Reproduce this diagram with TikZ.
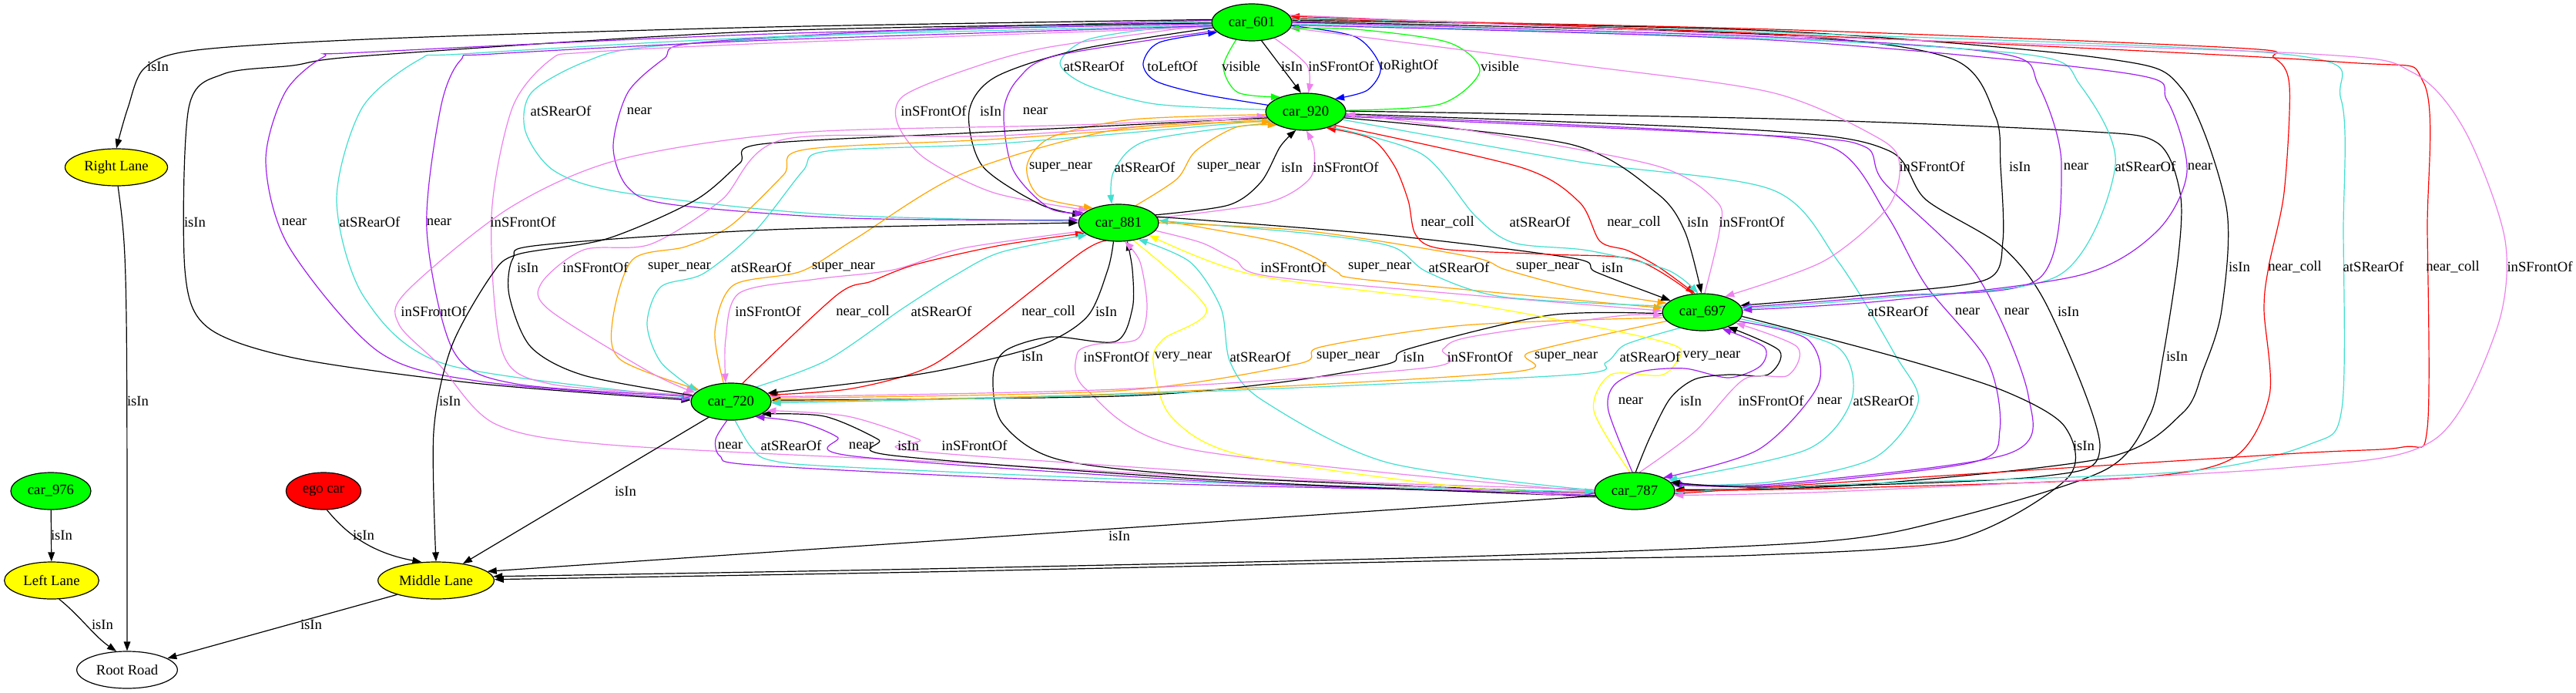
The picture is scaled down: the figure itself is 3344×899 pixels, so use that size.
\documentclass[tikz,border=0pt]{standalone}
\usepackage{fontspec}
\setmainfont{Liberation Serif}
\usetikzlibrary{shapes.geometric,arrows.meta}
\definecolor{cturq}{RGB}{64,224,208}
\definecolor{cviolet}{RGB}{238,130,238}
\definecolor{cpurple}{RGB}{160,32,240}
\definecolor{corange}{RGB}{255,165,0}
\definecolor{cred}{RGB}{255,0,0}
\definecolor{cblue}{RGB}{0,0,255}
\definecolor{cgreen}{RGB}{0,255,0}
\definecolor{cyellow}{RGB}{255,255,0}
\pgfdeclarelayer{bg}
\pgfdeclarelayer{edges}
\pgfsetlayers{bg,edges,main}
\tikzset{
  every node/.style={font=\fontsize{14pt}{16pt}\selectfont},
  gnode/.style={ellipse, draw, line width=0.9pt, minimum height=36pt, inner sep=0pt},
  car/.style={gnode, fill=cgreen, minimum width=78pt},
  lbl/.style={inner sep=0pt},
  ed/.style={line width=0.9pt, -{Triangle[length=9pt,width=6.5pt]}},
}
\newcommand{\Edg}[2]{\draw[ed,#1] plot[smooth,tension=0.5] coordinates {#2};}
\newcommand{\Lb}[3]{\node[lbl] (#1) at (#2) {#3};}
\begin{document}
\begin{tikzpicture}[x=0.75pt,y=-0.75pt]
\useasboundingbox (0,0) rectangle (3344,899);
\begin{pgfonlayer}{bg}
\fill[white] (0,0) rectangle (3344,899);
\end{pgfonlayer}
% nodes
\node[car] (n601) at (1625,29) {car\_601};
\node[car] (n920) at (1695,145) {car\_920};
\node[car] (n881) at (1452,289) {car\_881};
\node[car] (n697) at (2210,405) {car\_697};
\node[car] (n787) at (2122,637) {car\_787};
\node[car] (n720) at (949,521) {car\_720};
\node[car] (n976) at (66,637) {car\_976};
\node[gnode, fill=cyellow, minimum width=99.75pt] (rl) at (151,217) {Right Lane};
\node[gnode, fill=cyellow, minimum width=92pt] (ll) at (67,753) {Left Lane};
\node[gnode, fill=cred, minimum width=73pt] (ego) at (420,637) {ego car};
\node[gnode, fill=cyellow, minimum width=113pt] (ml) at (566,753) {Middle Lane};
\node[gnode, fill=white, minimum width=98pt] (root) at (165,869) {Root Road};
\begin{pgfonlayer}{edges}
% A: 601 <-> 920
\Edg{cturq}{(n920.177) (1500,135) (1410,110) (1376,82) (1410,52) (1500,37) (n601.186)}
\Edg{cblue}{(n920.170) (1560,122) (1500,105) (1484,82) (1505,55) (n601.196)}
\Edg{cgreen}{(n601.228) (1588,87) (1607,120) (n920.150)}
\draw[ed] (n601.-62) -- (n920.104);
\Edg{cviolet}{(n601.-35) (1697,85) (n920.82)}
\Edg{cblue}{(n601.-5) (1760,48) (1792,87) (1775,117) (n920.24)}
\Edg{cgreen}{(n920.2) (1870,135) (1921,92) (1880,55) (1760,38) (n601.-9)}
% B: 920 <-> 881
\Edg{corange}{(n920.184) (1470,155) (1365,178) (1333,215) (1350,255) (n881.150)}
\Edg{cturq}{(n920.198) (1490,182) (1446,222) (n881.110)}
\Edg{corange}{(n881.45) (1528,232) (1552,196) (1605,165) (n920.205)}
\Edg{black}{(n881.12) (1595,266) (1637,236) (1662,190) (n920.242)}
\Edg{cviolet}{(n881.7) (1645,263) (1700,232) (1706,195) (n920.272)}
% C: 601 -> 881
\Edg{cviolet}{(n601.183) (1357,62) (1250,92) (1172,125) (1165,160) (1200,205) (1290,250) (n881.158)}
\Edg{black}{(n601.188) (1402,64) (1292,100) (1258,145) (1275,215) (1350,265) (n881.168)}
\Edg{cpurple}{(n601.193) (1372,72) (1322,102) (1303,145) (1315,220) (1362,270) (n881.164)}
\Edg{cturq}{(n601.179) (1200,40) (850,60) (760,80) (690,120) (682,170) (720,222) (810,250) (1070,278) (n881.178)}
\Edg{cpurple}{(n601.177) (1200,38) (900,56) (862,76) (815,120) (796,190) (815,243) (870,265) (1100,283) (n881.176)}
% D: 601 -> Right Lane, 601 -> 720
\Edg{black}{(n601.176) (1000,35) (500,50) (255,65) (188,88) (166,140) (rl.north)}
\Edg{black}{(n601.181) (1000,40) (480,72) (380,85) (290,96) (245,140) (240,350) (270,425) (385,465) (625,498) (n720.178)}
\Edg{cpurple}{(n601.182) (1000,44) (470,68) (420,74) (370,120) (345,210) (375,320) (491,456) (625,495) (n720.176)}
\Edg{cturq}{(n601.184) (1000,48) (600,70) (545,77) (470,140) (437,260) (473,386) (580,473) (n720.174)}
\Edg{cpurple}{(n601.185) (1000,52) (640,70) (598,78) (572,140) (554,298) (589,456) (670,498) (n720.172)}
\Edg{cviolet}{(n601.187) (1000,56) (760,68) (714,78) (665,140) (638,281) (652,456) (714,498) (n720.170)}
% E: around 720
\Edg{cviolet}{(n787.178) (1600,620) (1238,600) (791,577) (643,550) (571,474) (518,421) (527,379) (661,270) (804,207) (1036,172) (1400,162) (n920.186)}
\Edg{black}{(n920.189) (1268,172) (988,187) (960,212) (902,260) (787,310) (672,330) (638,357) (586,450) (563,560) (ml.north)}
\Edg{corange}{(n920.191) (1300,180) (1045,194) (1017,227) (948,293) (890,320) (821,337) (795,417) (806,467) (n720.160)}
\Edg{cturq}{(n920.193) (1300,186) (1074,196) (1042,222) (980,300) (913,355) (858,372) (840,420) (858,470) (n720.163)}
\Edg{cviolet}{(n920.187) (1300,176) (1017,181) (936,260) (844,317) (758,324) (703,367) (713,402) (844,483) (n720.166)}
\Edg{corange}{(n720.112) (928,430) (952,370) (1040,352) (1110,310) (1250,225) (1450,168) (n920.196)}
\Edg{cviolet}{(n881.193) (1250,322) (1160,350) (1060,362) (960,380) (942,440) (n720.106)}
\Edg{cred}{(n720.58) (1086,383) (1131,365) (1189,343) (1300,318) (n881.197)}
\Edg{cturq}{(n720.30) (1074,467) (1172,400) (1240,357) (1300,327) (n881.201)}
\Edg{cred}{(n881.236) (1400,330) (1246,450) (1189,483) (1100,505) (n720.10)}
\Edg{black}{(n720.171) (758,487) (689,450) (661,383) (666,335) (701,318) (1000,298) (n881.180)}
\Edg{black}{(n881.255) (1438,350) (1412,410) (1353,447) (1238,477) (1142,493) (n720.13)}
\Edg{black}{(n787.183) (1600,620) (1378,597) (1302,550) (1289,490) (1305,455) (1365,437) (1448,443) (1470,400) (1470,350) (n881.-65)}
\Edg{cviolet}{(n787.181) (1546,583) (1410,505) (1398,460) (1420,447) (1476,440) (1489,400) (1480,340) (n881.-72)}
\Edg{cyellow}{(n881.-50) (1566,400) (1510,440) (1497,470) (1520,540) (1610,590) (1900,632) (n787.182)}
\Edg{cturq}{(n787.179) (1801,600) (1640,520) (1597,470) (1585,400) (1545,340) (n881.-40)}
% F: 881 <-> 697
\Edg{cviolet}{(n881.-12) (1560,315) (1603,337) (1645,358) (1900,382) (n697.178)}
\Edg{corange}{(n881.4) (1650,312) (1705,333) (1736,353) (1766,362) (2000,385) (n697.174)}
\Edg{cturq}{(n697.171) (1950,385) (1853,353) (1807,320) (1700,303) (n881.3)}
\Edg{corange}{(n881.0) (1700,300) (1909,333) (1955,350) (2050,375) (n697.166)}
\Edg{black}{(n881.9) (1800,305) (2042,335) (2072,353) (n697.160)}
% G: 697 <-> 720
\Edg{corange}{(n697.188) (1900,422) (1715,450) (1685,472) (1450,507) (n720.5)}
\Edg{black}{(n697.182) (2011,409) (1827,453) (1802,472) (1654,497) (1450,514) (n720.2)}
\Edg{cviolet}{(n720.7) (1450,505) (1853,477) (1873,453) (1909,437) (2100,410) (n697.185)}
\Edg{corange}{(n697.194) (1986,457) (1960,483) (1450,511) (n720.0)}
\Edg{cturq}{(n697.215) (2110,447) (2085,470) (2028,487) (1450,512) (n720.-2)}
% H
\Edg{cyellow}{(n787.104) (2069,533) (2091,486) (2155,487) (2176,470) (2178,450) (2100,430) (1900,393) (1629,357) (n881.-22)}
% I: 720 <-> 787
\Edg{cpurple}{(n720.-102) (929,570) (935,592) (975,603) (1300,620) (1600,630) (n787.183)}
\Edg{cturq}{(n720.-78) (975,580) (1000,597) (1100,606) (1600,627) (n787.181)}
\Edg{cpurple}{(n787.186) (1600,626) (1110,592) (1087,567) (1040,548) (n720.-32)}
\Edg{black}{(n787.188) (1600,624) (1160,591) (1140,570) (1070,540) (n720.-22)}
\Edg{cviolet}{(n787.190) (1220,588) (1193,570) (1100,540) (n720.-14)}
% J: 697 <-> 787
\Edg{cpurple}{(n787.97) (2088,533) (2095,500) (2130,482) (2187,478) (2244,490) (2285,475) (2290,450) (n697.-40)}
\Edg{black}{(n787.87) (2142,567) (2168,517) (2200,492) (2244,486) (2295,486) (2310,455) (n697.-30)}
\Edg{cviolet}{(n787.75) (2200,560) (2264,492) (2321,487) (2333,450) (n697.-18)}
\Edg{cpurple}{(n697.-14) (2346,440) (2360,500) (2283,583) (n787.25)}
\Edg{cturq}{(n697.-10) (2385,450) (2404,517) (2346,583) (n787.18)}
% K: 920 -> 787
\Edg{cturq}{(n920.-12) (2050,210) (2300,246) (2386,339) (2460,460) (2490,522) (2433,594) (2300,625) (n787.8)}
\Edg{cpurple}{(n920.-5) (2200,170) (2380,192) (2450,280) (2500,370) (2580,469) (2596,558) (2560,600) (2300,630) (n787.10)}
\Edg{cpurple}{(n920.-7) (2300,176) (2420,190) (2446,237) (2566,357) (2633,513) (2606,589) (2300,628) (n787.12)}
\Edg{black}{(n920.-3) (2300,170) (2453,196) (2500,259) (2600,321) (2660,402) (2726,580) (2650,618) (2300,632) (n787.14)}
% L: to Middle Lane from right
\Edg{black}{(n920.1) (2300,154) (2700,170) (2800,185) (2830,250) (2828,330) (2808,462) (2790,540) (2732,610) (2531,673) (2359,703) (1900,722) (1200,738) (ml.4)}
\Edg{black}{(n697.-6) (2461,463) (2601,507) (2680,553) (2684,620) (2538,700) (2283,720) (1900,727) (1200,742) (ml.1)}
% M: 601 -> 697
\Edg{cviolet}{(n601.-8) (2038,83) (2300,120) (2440,180) (2466,214) (2450,270) (2367,339) (n697.35)}
\Edg{black}{(n601.1) (2300,45) (2533,76) (2590,150) (2597,216) (2600,312) (2580,362) (2450,380) (n697.10)}
\Edg{cpurple}{(n601.0) (2300,48) (2600,70) (2646,110) (2676,214) (2646,362) (2450,384) (n697.7)}
\Edg{cturq}{(n601.-2) (2300,50) (2640,72) (2700,110) (2746,214) (2673,357) (2450,386) (n697.5)}
\Edg{cpurple}{(n601.-4) (2300,52) (2760,95) (2813,130) (2839,223) (2800,300) (2700,357) (2450,390) (n697.3)}
% N: 601 <-> 787
\Edg{black}{(n601.3) (2300,40) (2733,76) (2833,116) (2890,268) (2884,402) (2860,480) (2833,536) (2733,594) (2400,630) (n787.2)}
\Edg{cred}{(n601.5) (2300,38) (2900,62) (2952,75) (2972,112) (2965,250) (2945,346) (2939,402) (2946,513) (2899,594) (2766,620) (2400,633) (n787.0)}
\Edg{cturq}{(n787.-2) (2400,628) (2833,612) (2999,576) (3040,530) (3042,300) (3039,129) (2972,71) (2300,42) (n601.7)}
\Edg{cred}{(n787.-4) (2400,625) (2966,589) (3119,580) (3151,555) (3151,300) (3146,107) (3032,80) (2300,44) (n601.9)}
\Edg{cviolet}{(n601.11) (2300,46) (3000,70) (3132,94) (3200,170) (3252,312) (3240,430) (3159,571) (2966,607) (2400,637) (n787.-6)}
% R/S: 920 <-> 697
\Edg{cred}{(n697.118) (2123,337) (2011,330) (1873,323) (1838,305) (1828,260) (1810,215) (1780,180) (n920.-38)}
\Edg{cred}{(n920.-25) (1974,217) (2050,262) (2077,313) (2113,325) (2154,347) (n697.112)}
\Edg{cturq}{(n920.-32) (1846,200) (1915,280) (1965,315) (2062,325) (2164,350) (n697.103)}
\Edg{black}{(n920.-9) (2038,187) (2150,250) (2187,300) (n697.93)}
\Edg{cviolet}{(n697.83) (2232,300) (2229,262) (2150,215) (1900,168) (n920.-3)}
% lanes
\draw[ed] (rl.-85) .. controls (165,330) .. (root.north);
\draw[ed] (n976) -- (ll);
\draw[ed] (ll.-68) .. controls (105,800) and (122,825) .. (root.120);
\draw[ed] (ego.-80) .. controls (440,680) and (470,715) .. (ml.128);
\draw[ed] (ml.200) -- (root.16);
\draw[ed] (n720.215) -- (ml.32);
\draw[ed] (n787.187) -- (ml.10);
\end{pgfonlayer}
% labels
\Lb{la1}{1420,86}{atSRearOf}
\Lb{la2}{1522,86}{toLeftOf}
\Lb{la3}{1611,86}{visible}
\Lb{la4}{1677,86}{isIn}
\Lb{la5}{1741,86}{inSFrontOf}
\Lb{la6}{1829,86}{toRightOf}
\Lb{la7}{1947,86}{visible}
\Lb{lb1}{1377,217}{super\_near}
\Lb{lb2}{1486,217}{atSRearOf}
\Lb{lb3}{1595,217}{super\_near}
\Lb{lb4}{1677,217}{isIn}
\Lb{lb5}{1747,217}{inSFrontOf}
\Lb{lc1}{1212,144}{inSFrontOf}
\Lb{lc2}{1286,144}{isIn}
\Lb{lc3}{1344,144}{near}
\Lb{lc4}{728,144}{atSRearOf}
\Lb{lc5}{830,144}{near}
\Lb{ld0}{205,86}{isIn}
\Lb{ld1}{253,288}{isIn}
\Lb{ld2}{382,288}{near}
\Lb{ld3}{480,288}{atSRearOf}
\Lb{ld4}{570,288}{near}
\Lb{ld5}{679,288}{inSFrontOf}
\Lb{le1}{563,404}{inSFrontOf}
\Lb{le2}{584,520}{isIn}
\Lb{le3}{882,347}{super\_near}
\Lb{le4}{988,347}{atSRearOf}
\Lb{le5}{773,347}{inSFrontOf}
\Lb{le6}{1095,347}{super\_near}
\Lb{le7}{997,404}{inSFrontOf}
\Lb{le8}{1120,404}{near\_coll}
\Lb{le9}{1222,404}{atSRearOf}
\Lb{le10}{1361,404}{near\_coll}
\Lb{le11}{685,347}{isIn}
\Lb{le12}{1436,404}{isIn}
\Lb{le13}{1340,462}{isIn}
\Lb{le14}{1449,463}{inSFrontOf}
\Lb{le15}{1536,463}{very\_near}
\Lb{le16}{1636,463}{atSRearOf}
\Lb{lf1}{1679,347}{inSFrontOf}
\Lb{lf2}{1791,347}{super\_near}
\Lb{lf3}{1894,347}{atSRearOf}
\Lb{lf4}{2009,347}{super\_near}
\Lb{lf5}{2093,347}{isIn}
\Lb{lg1}{1750,463}{super\_near}
\Lb{lg2}{1835,463}{isIn}
\Lb{lg3}{1921,463}{inSFrontOf}
\Lb{lg4}{2033,463}{super\_near}
\Lb{lg5}{2142,463}{atSRearOf}
\Lb{lh}{2222,462}{very\_near}
\Lb{li1}{948,578}{near}
\Lb{li2}{1027,578}{atSRearOf}
\Lb{li3}{1118,578}{near}
\Lb{li4}{1179,578}{isIn}
\Lb{li5}{1265,578}{inSFrontOf}
\Lb{lj1}{2117,520}{near}
\Lb{lj2}{2195,520}{isIn}
\Lb{lj3}{2299,520}{inSFrontOf}
\Lb{lj4}{2375,520}{near}
\Lb{lj5}{2445,520}{atSRearOf}
\Lb{lk1}{2464,404}{atSRearOf}
\Lb{lk2}{2554,404}{near}
\Lb{lk3}{2618,404}{near}
\Lb{lk4}{2685,404}{isIn}
\Lb{ll1}{2826,462}{isIn}
\Lb{ll2}{2705,578}{isIn}
\Lb{lm1}{2508,216}{inSFrontOf}
\Lb{lm2}{2622,216}{isIn}
\Lb{lm3}{2695,216}{near}
\Lb{lm4}{2785,216}{atSRearOf}
\Lb{lm5}{2856,216}{near}
\Lb{ln1}{2907,346}{isIn}
\Lb{ln2}{2979,346}{near\_coll}
\Lb{ln3}{3081,346}{atSRearOf}
\Lb{ln4}{3184,346}{near\_coll}
\Lb{ln5}{3297,346}{inSFrontOf}
\Lb{lr1}{1879,288}{near\_coll}
\Lb{lr2}{2121,288}{near\_coll}
\Lb{ls1}{1999,288}{atSRearOf}
\Lb{ls2}{2204,288}{isIn}
\Lb{ls3}{2274,288}{inSFrontOf}
\Lb{lx1}{179,520}{isIn}
\Lb{lx2}{80,694}{isIn}
\Lb{lx3}{133,810}{isIn}
\Lb{lx4}{472,694}{isIn}
\Lb{lx5}{404,810}{isIn}
\Lb{lx6}{812,637}{isIn}
\Lb{lx7}{1453,695}{isIn}
\end{tikzpicture}
\end{document}
